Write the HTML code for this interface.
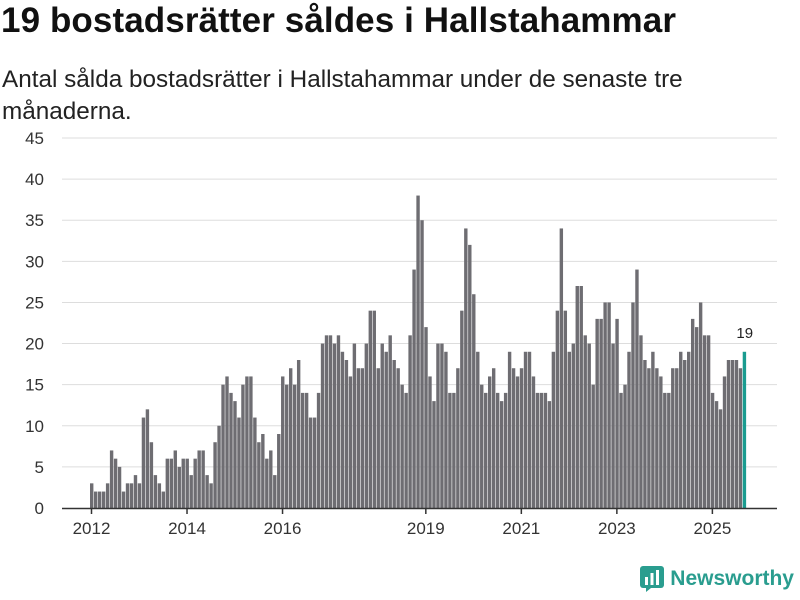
<!DOCTYPE html>
<html><head><meta charset="utf-8"><style>
body{margin:0;width:800px;height:600px;background:#fff;font-family:"Liberation Sans",sans-serif;overflow:hidden;position:relative}
h1{position:absolute;left:1px;top:1px;margin:0;font-size:35px;font-weight:bold;color:#111;white-space:nowrap;letter-spacing:0.1px}
.sub{position:absolute;left:2px;top:64px;font-size:24.3px;line-height:32px;color:#222;width:740px}
.logo{position:absolute;right:6px;bottom:8px;display:flex;align-items:center;font-size:21px;color:#2a9d8f;font-weight:bold}
</style></head><body>
<h1>19 bostadsrätter såldes i Hallstahammar</h1>
<div class="sub">Antal sålda bostadsrätter i Hallstahammar under de senaste tre<br>månaderna.</div>
<svg id="chart" width="800" height="600" style="position:absolute;left:0;top:0"></svg>
<div class="logo"><svg width="24" height="26" style="margin-right:6px"><rect x="0" y="0" width="24" height="22" rx="3" fill="#2a9d8f"/><path d="M6 22 L6 26 L11 22Z" fill="#2a9d8f"/><rect x="5" y="11" width="3" height="8" fill="#fff"/><rect x="10.5" y="7" width="3" height="12" fill="#fff"/><rect x="16" y="4" width="3" height="15" fill="#fff"/></svg>Newsworthy</div>
<script>
const values=[3,2,2,2,3,7,6,5,2,3,3,4,3,11,12,8,4,3,2,6,6,7,5,6,6,4,6,7,7,4,3,8,10,15,16,14,13,11,15,16,16,11,8,9,6,7,4,9,16,15,17,15,18,14,14,11,11,14,20,21,21,20,21,19,18,16,20,17,17,20,24,24,17,20,19,21,18,17,15,14,21,29,38,35,22,16,13,20,20,19,14,14,17,24,34,32,26,19,15,14,16,17,14,13,14,19,17,16,17,19,19,16,14,14,14,13,19,24,34,24,19,20,27,27,21,20,15,23,23,25,25,20,23,14,15,19,25,29,21,18,17,19,17,16,14,14,17,17,19,18,19,23,22,25,21,21,14,13,12,16,18,18,18,17,19];
const yTicks=[0,5,10,15,20,25,30,35,40,45];
const xTickLabels=["2012","2014","2016","2019","2021","2023","2025"];
const xTickIndex=[0,24,48,84,108,132,156];
const svg=document.getElementById('chart');const NS='http://www.w3.org/2000/svg';
const y=v=>508-v*(370/45);const step=3.98;const x=i=>90+i*step;
function mk(t,a){const e=document.createElementNS(NS,t);for(const k in a)e.setAttribute(k,a[k]);svg.appendChild(e);return e;}
yTicks.forEach(t=>{
 if(t>0){const g=mk('line',{x1:62,x2:777,y1:y(t),y2:y(t),stroke:'#ddd','stroke-width':1});
 
 }
 const l=mk('text',{x:44,y:y(t)+6,'text-anchor':'end','font-size':17,fill:'#333','font-family':'Liberation Sans,sans-serif'});l.textContent=t;
 
 
});
values.forEach((v,i)=>{const last=i===values.length-1;
 const r=mk('rect',{x:x(i),y:y(v),width:3.4,height:508-y(v),fill:last?'#1a9c90':'#6e6d72'});
 
 
 if(last){const t=mk('text',{x:x(i)+2,y:y(v)-14,'text-anchor':'middle','font-size':15,fill:'#222','font-family':'Liberation Sans,sans-serif'});t.textContent=v;
 
 }
});
const ax=mk('line',{x1:62,x2:777,y1:508.5,y2:508.5,stroke:'#333','stroke-width':1.5});


xTickLabels.forEach((lb,k)=>{const xx=x(xTickIndex[k])+1.5;
 const tk=mk('line',{x1:xx,x2:xx,y1:508,y2:514,stroke:'#333','stroke-width':1.5});
 
 
 const t=mk('text',{x:xx,y:534,'text-anchor':'middle','font-size':17,fill:'#333','font-family':'Liberation Sans,sans-serif'});t.textContent=lb;
 
 
});
</script>
</body></html>
